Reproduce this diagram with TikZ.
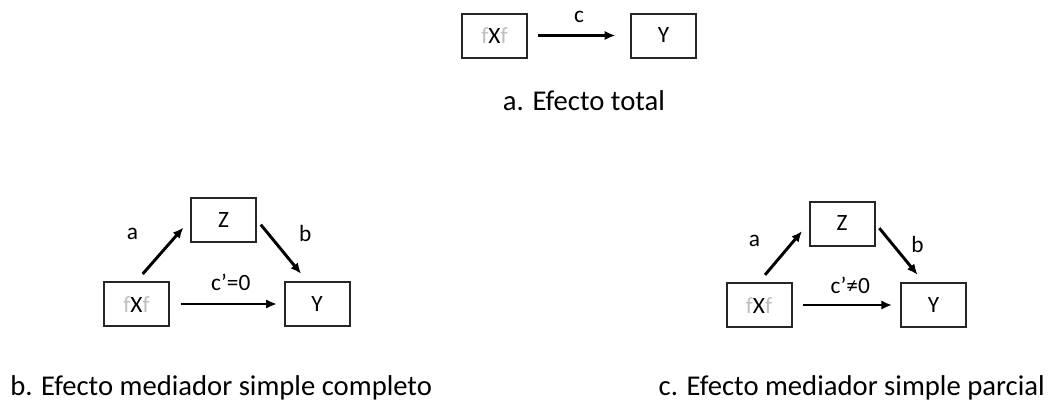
\documentclass[tikz,border=0pt]{standalone}
\usepackage{fontspec}
\setmainfont{Carlito}
\usetikzlibrary{positioning, arrows.meta, calc}

\tikzset{
	var/.style={draw=black!85, line width=1.5pt, minimum width=48.75pt, minimum height=33pt, inner sep=0pt, font=\fontsize{17.5}{20}\selectfont},
	link/.style={-{Latex[length=8pt,width=7pt]}, line width=2.2pt},
	lbl/.style={font=\fontsize{17.5}{20}\selectfont},
	caption/.style={font=\fontsize{21.5}{25}\selectfont, inner sep=0pt}
}
\newcommand{\fxf}{\textcolor{black!25}{f}X\textcolor{black!25}{f}}

\begin{document}
\begin{tikzpicture}[x=0.75pt, y=-0.75pt]
		\useasboundingbox (0,0) rectangle (1051,401);

		% a. total effect
		\node[var] (xa) at (494.5,35.5) {\fxf};
		\node[var] (ya) at (663.5,35.5) {Y};
		\node[caption, anchor=base] (capa) at (584,110) {a. Efecto total};

		\draw[link, shorten <=7.5pt, shorten >=11pt] (xa) -- node[lbl, yshift=14pt]{c} (ya);

		% b. complete mediation
		\node[var] (xb) at (136.5,304) {\fxf};
		\node[var] (yb) at (317,304) {Y};
		\node[var] (zb) at (223.5,220) {Z};
		\node[caption, anchor=base west] (capb) at (10,395) {b. Efecto mediador simple completo};

		\draw[link, shorten <=7pt, shorten >=7.5pt] (xb.north) -- node[lbl, xshift=-23pt, yshift=12.5pt]{a} (zb.west);
		\draw[link, shorten <=4.5pt, shorten >=7pt] (zb.east) -- node[lbl, xshift=17.5pt, yshift=12.5pt]{b} ([xshift=-7.5pt]yb.north);
		\draw[link, shorten <=8pt, shorten >=5pt] (xb) -- node[lbl, xshift=3pt, yshift=16pt]{c’=0} (yb);

		% c. partial mediation
		\node[var] (xc) at (759,305) {\fxf};
		\node[var] (yc) at (933.5,305) {Y};
		\node[var] (zc) at (842,223.5) {Z};
		\node[caption, anchor=base east] (capc) at (1045,395) {c. Efecto mediador simple parcial};

		\draw[link, shorten <=7pt, shorten >=7.5pt] (xc.north) -- node[lbl, xshift=-22pt, yshift=9pt]{a} (zc.west);
		\draw[link, shorten <=4.5pt, shorten >=7pt] (zc.east) -- node[lbl, xshift=13.5pt, yshift=6pt]{b} ([xshift=-7.5pt]yc.north);
		\draw[link, shorten <=8pt, shorten >=6pt] (xc) -- node[lbl, xshift=3pt, yshift=15pt]{c’≠0} (yc);
\end{tikzpicture}
\end{document}
